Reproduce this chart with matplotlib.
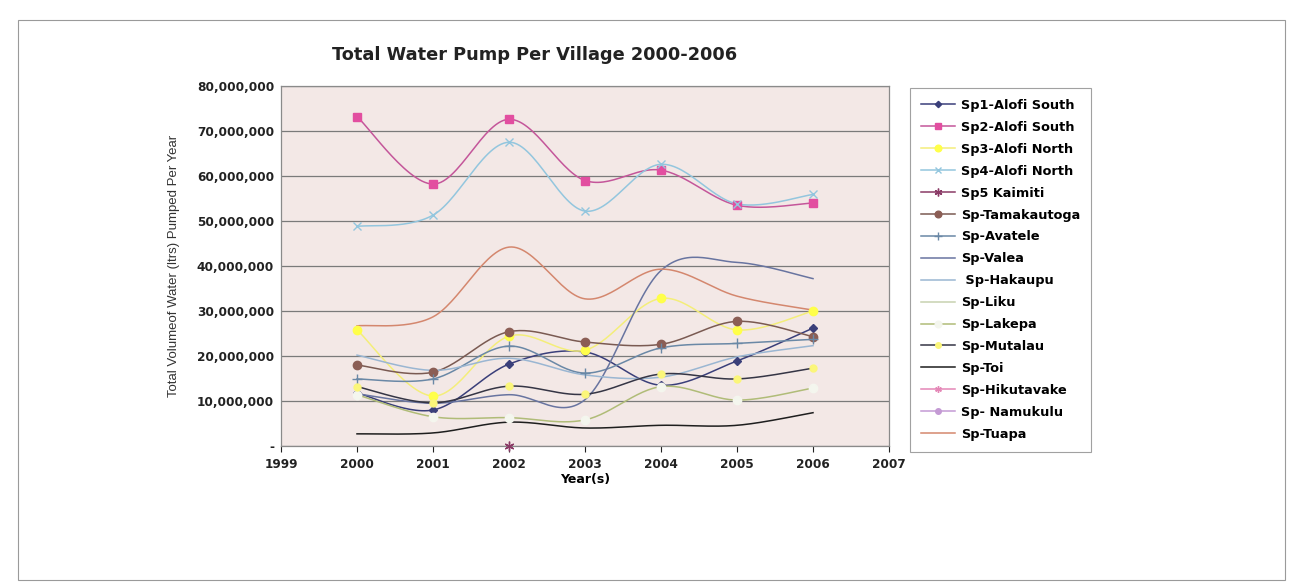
import numpy as np
import matplotlib.pyplot as plt
from matplotlib.patches import Rectangle
from matplotlib.lines import Line2D

plt.rcParams['font.family'] = ['DejaVu Sans']

# Data (litres per year)
years = [2000, 2001, 2002, 2003, 2004, 2005, 2006]
nan = np.nan

sp1_alofi_south = [11.8e6, 8.0e6, 18.2e6, 20.9e6, 13.5e6, 18.9e6, 26.2e6]
sp2_alofi_south = [73.2e6, 58.2e6, 72.6e6, 59.0e6, 61.3e6, 53.5e6, 54.0e6]
sp3_alofi_north = [25.8e6, 11.1e6, 24.4e6, 21.3e6, 32.8e6, 25.8e6, 30.0e6]
sp4_alofi_north = [48.8e6, 51.3e6, 67.5e6, 52.2e6, 62.6e6, 53.8e6, 55.9e6]
sp5_kaimiti = [nan, nan, 0, nan, nan, nan, nan]
tamakautoga = [18.0e6, 16.4e6, 25.4e6, 23.1e6, 22.6e6, 27.7e6, 24.3e6]
avatele = [14.9e6, 14.9e6, 22.2e6, 16.2e6, 21.8e6, 22.8e6, 23.7e6]
valea = [11.6e6, 9.5e6, 11.4e6, 10.3e6, 39.0e6, 40.8e6, 37.2e6]
hakaupu = [20.2e6, 16.8e6, 19.5e6, 15.8e6, 15.3e6, 19.8e6, 22.3e6]
liku = [nan] * 7
lakepa = [11.4e6, 6.5e6, 6.3e6, 5.8e6, 13.2e6, 10.2e6, 12.9e6]
mutalau = [13.2e6, 9.6e6, 13.3e6, 11.5e6, 16.0e6, 14.9e6, 17.3e6]
toi = [2.7e6, 2.9e6, 5.3e6, 4.0e6, 4.6e6, 4.6e6, 7.4e6]
hikutavake = [nan] * 7
namukulu = [nan] * 7
tuapa = [26.7e6, 28.7e6, 44.2e6, 32.7e6, 39.3e6, 33.3e6, 30.2e6]

labels = ['Sp1-Alofi South', 'Sp2-Alofi South', 'Sp3-Alofi North', 'Sp4-Alofi North',
          'Sp5 Kaimiti', 'Sp-Tamakautoga', 'Sp-Avatele', 'Sp-Valea', ' Sp-Hakaupu',
          'Sp-Liku', 'Sp-Lakepa', 'Sp-Mutalau', 'Sp-Toi', 'Sp-Hikutavake',
          'Sp- Namukulu', 'Sp-Tuapa']
series = [sp1_alofi_south, sp2_alofi_south, sp3_alofi_north, sp4_alofi_north,
          sp5_kaimiti, tamakautoga, avatele, valea, hakaupu, liku, lakepa,
          mutalau, toi, hikutavake, namukulu, tuapa]

# line colour, marker, marker face colour, marker size
styles = [
    ('#3a3f7a', 'D', '#3a3f7a', 4),
    ('#c4569a', 's', '#e24ea0', 6),
    ('#f4ee7a', 'o', '#ffff4a', 6),
    ('#93c6de', 'x', '#93c6de', 6),
    ('#8a3a66', (6, 2, 0), '#8a3a66', 7),
    ('#7a5a52', 'o', '#8b5e55', 6),
    ('#6a88a6', '+', '#6a88a6', 7),
    ('#6874a0', None, None, 0),
    ('#9ab6d2', None, None, 0),
    ('#c8d2b0', None, None, 0),
    ('#b0bc78', 'o', '#f4f6ee', 6),
    ('#353545', 'o', '#fbf67a', 5),
    ('#1e1e1e', None, None, 0),
    ('#e486b6', (6, 2, 0), '#e486b6', 6),
    ('#c49ad4', 'o', '#c49ad4', 5),
    ('#d4876e', None, None, 0),
]


def smooth(x, y, n=30):
    # Excel style smoothed line (cardinal bezier through the points)
    p = np.column_stack([x, y]).astype(float)
    out = []
    for i in range(len(p) - 1):
        p0 = p[i - 1] if i > 0 else p[i]
        p3 = p[i + 2] if i + 2 < len(p) else p[i + 1]
        c1 = p[i] + (p[i + 1] - p0) / 6
        c2 = p[i + 1] - (p3 - p[i]) / 6
        t = np.linspace(0, 1, n)[:, None]
        seg = ((1 - t) ** 3 * p[i] + 3 * (1 - t) ** 2 * t * c1
               + 3 * (1 - t) * t ** 2 * c2 + t ** 3 * p[i + 1])
        out.append(seg)
    out = np.vstack(out)
    return out[:, 0], out[:, 1]


fig = plt.figure(figsize=(13.03, 5.84), dpi=100)
fig.patches.append(Rectangle((18 / 1303, 1 - 580 / 584), 1267 / 1303, 560 / 584,
                             transform=fig.transFigure, fill=False,
                             edgecolor='#9a9a9a', linewidth=0.8))

ax = fig.add_axes([281 / 1303, 1 - 446 / 584, 608 / 1303, 360 / 584])
ax.set_facecolor('#f3e8e6')

handles = []
for lab, vals, (col, mk, mfc, ms) in zip(labels, series, styles):
    v = np.array(vals, dtype=float)
    ok = ~np.isnan(v)
    xs = np.array(years)[ok]
    ys = v[ok]
    if len(xs) > 2:
        sx, sy = smooth(xs, ys)
        ax.plot(sx, sy, color=col, linewidth=1.1, zorder=3)
    mec = col if mk not in ('o', 's') else mfc
    if mk is not None and len(xs) > 0:
        ax.plot(xs, ys, linestyle='none', marker=mk, color=col,
                markerfacecolor=mfc, markeredgecolor=mec,
                markersize=ms, zorder=4, clip_on=False)
    handles.append(Line2D([], [], color=col, linewidth=1.1, marker=mk,
                          markerfacecolor=mfc, markeredgecolor=mec,
                          markersize=ms * 0.8 if ms else 0))

ax.set_xlim(1999, 2007)
ax.set_ylim(0, 80e6)
ax.set_xticks(range(1999, 2008))
ax.set_yticks(range(0, 80000001, 10000000))
ax.set_yticklabels(['-'] + ['{:,}'.format(v) for v in range(10000000, 80000001, 10000000)])
ax.tick_params(axis='both', labelsize=8.7, colors='#222222', length=4, width=0.8)
ax.tick_params(axis='y', length=0, pad=5)
ax.tick_params(axis='x', pad=5)
for t in ax.get_xticklabels() + ax.get_yticklabels():
    t.set_fontweight('bold')
ax.grid(axis='y', color='#7a7a7a', linewidth=0.9)
ax.set_axisbelow(True)
for s in ax.spines.values():
    s.set_color('#8a8a8a')
    s.set_linewidth(0.9)

ax.set_xlabel('Year(s)', fontsize=9, fontweight='bold', labelpad=1)
ax.set_ylabel('Total Volumeof Water (ltrs) Pumped Per Year', fontsize=9.5,
              family='Liberation Sans', color='#333333', labelpad=12)
fig.text(535 / 1303, 1 - 55 / 584, 'Total Water Pump Per Village 2000-2006',
         ha='center', va='center', fontsize=12.8, fontweight='bold', color='#222222')

leg = fig.legend(handles, labels, loc='upper left',
                 bbox_to_anchor=(910 / 1303, 1 - 88 / 584), bbox_transform=fig.transFigure,
                 borderaxespad=0, frameon=True, fancybox=False, labelspacing=0.69,
                 handlelength=2.6, handletextpad=0.5, borderpad=0.85,
                 prop={'weight': 'bold', 'size': 9.3})
leg.get_frame().set_edgecolor('#8a8a8a')
leg.get_frame().set_linewidth(0.8)

fig.savefig('out.png', dpi=100, facecolor='white')
